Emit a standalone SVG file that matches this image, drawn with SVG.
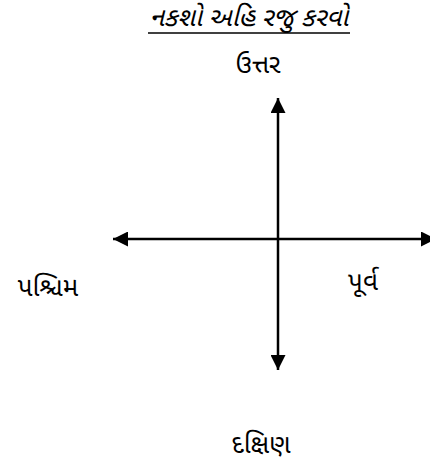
<svg xmlns="http://www.w3.org/2000/svg" width="430" height="469" viewBox="0 0 430 469">
<style>
.t{font-family:"Noto Sans Gujarati","Noto Sans","Lohit Gujarati",sans-serif;font-size:26px;fill:#000;text-anchor:middle}
.c{stroke:#000;stroke-width:2.5;fill:none}
</style>
<defs>
<marker id="ah" viewBox="0 0 10 10" refX="10" refY="5" markerWidth="6" markerHeight="6" markerUnits="strokeWidth" orient="auto">
<path d="M0,0 L10,5 L0,10 z" fill="#000"/>
</marker>
</defs>
<rect width="430" height="469" fill="#fff"/>
<g id="title"><text class="t" x="249" y="26" font-style="italic">નકશો અહિ રજુ કરવો</text><line x1="148" y1="33" x2="350" y2="33" stroke="#000" stroke-width="1.5"/></g>
<g id="connectors">
<line class="c" x1="278" y1="239" x2="278" y2="98" marker-end="url(#ah)"/>
<line class="c" x1="278" y1="239" x2="278" y2="370" marker-end="url(#ah)"/>
<line class="c" x1="278" y1="239" x2="113" y2="239" marker-end="url(#ah)"/>
<line class="c" x1="278" y1="239" x2="436" y2="239" marker-end="url(#ah)"/>
</g>
<g id="north"><text class="t" x="258" y="73">ઉત્તર</text></g>
<g id="west"><text class="t" x="48" y="296">પશ્ચિમ</text></g>
<g id="east"><text class="t" x="363" y="290">પૂર્વ</text></g>
<g id="south"><text class="t" x="261" y="453">દક્ષિણ</text></g>
</svg>
